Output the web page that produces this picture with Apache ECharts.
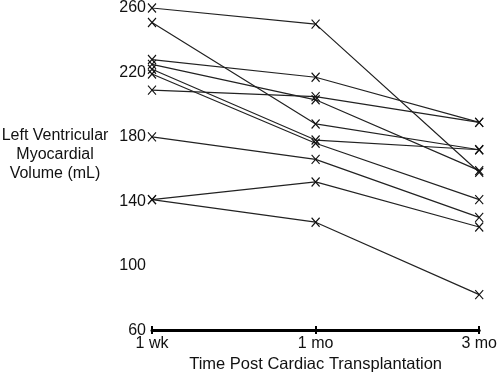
<!DOCTYPE html>
<html>
<head>
<meta charset="utf-8">
<script src="https://cdn.jsdelivr.net/npm/echarts@6/dist/echarts.min.js"></script>
<style>
  html, body { margin: 0; padding: 0; background: #fff; }
  #chart { width: 500px; height: 378px; }
</style>
</head>
<body>
<div id="chart"></div>
<script>
// time points
var categories = ['1 wk', '1 mo', '3 mo'];

// one array per patient: volume (mL) at 1 wk, 1 mo, 3 mo
var p1 = [260, 250, 158];
var p2 = [251, 188, 172];
var p3 = [228, 217, 189];
var p4 = [225, 203, 159];
var p5 = [222, 178, 172];
var p6 = [219, 176, 141];
var p7 = [209, 205, 189];
var p8 = [180, 166, 130];
var p9 = [141, 152, 124];
var p10 = [141, 127, 82];
var patients = [p1, p2, p3, p4, p5, p6, p7, p8, p9, p10];

var yTicks = { min: 60, max: 260, step: 40 };

var font = 'Liberation Sans, Arial, Helvetica, sans-serif';
var crossMark = 'path://M0,0L10,12M10,0L0,12';

var chart = echarts.init(document.getElementById('chart'));

var series = patients.map(function (vals, i) {
    return {
        name: 'P' + (i + 1),
        type: 'line',
        data: vals,
        symbol: crossMark,
        symbolSize: [8, 9],
        showAllSymbol: true,
        itemStyle: { color: 'transparent', borderColor: '#111', borderWidth: 1.2 },
        lineStyle: { color: '#222', width: 1.2 },
        emphasis: { disabled: true },
        animation: false
    };
});

chart.setOption({
    backgroundColor: '#fff',
    animation: false,
    grid: { left: 152, right: 20, top: 5, bottom: 46.5 },
    graphic: [{
        type: 'text',
        x: 55,
        y: 155,
        style: {
            text: 'Left Ventricular\nMyocardial\nVolume (mL)',
            align: 'center',
            verticalAlign: 'middle',
            font: '16px ' + font,
            lineHeight: 19,
            fill: '#111'
        }
    }],
    xAxis: [{
        type: 'category',
        data: categories,
        boundaryGap: false,
        position: 'bottom',
        axisLine: { lineStyle: { color: '#000', width: 3 } },
        axisTick: { show: true, length: 4, alignWithLabel: true, lineStyle: { color: '#000', width: 2 } },
        axisLabel: { margin: 5, fontSize: 16, fontFamily: font, color: '#111' },
        name: 'Time Post Cardiac Transplantation',
        nameLocation: 'middle',
        nameGap: 25,
        nameTextStyle: { fontSize: 16.5, fontFamily: font, color: '#111' }
    }, {
        type: 'category',
        data: categories,
        boundaryGap: false,
        position: 'bottom',
        axisLine: { show: false },
        axisTick: { show: true, inside: true, length: 4, lineStyle: { color: '#000', width: 2 } },
        axisLabel: { show: false }
    }],
    yAxis: {
        type: 'value',
        min: yTicks.min,
        max: yTicks.max,
        interval: yTicks.step,
        axisLine: { show: false },
        axisTick: { show: false },
        splitLine: { show: false },
        axisLabel: { margin: 6, fontSize: 16, fontFamily: font, color: '#111' }
    },
    series: series
});
</script>
</body>
</html>
